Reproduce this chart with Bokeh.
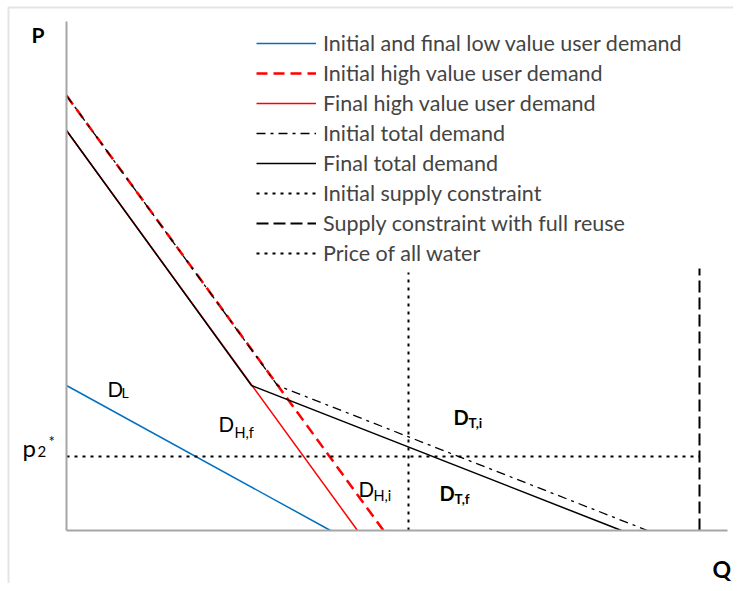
from bokeh.plotting import figure
from bokeh.models import Range1d, Label, Legend, LegendItem, FixedTicker, BoxAnnotation
from bokeh.embed import file_html
from bokeh.resources import INLINE

# ---- data ----
q_max, p_max = 661, 509
low_q = [0, 264]
low_p = [145, 0]
high_init_q = [0, 317]
high_init_p = [435, 0]
high_final_q = [0, 291]
high_final_p = [400, 0]
total_init_q = [0, 211, 581]
total_init_p = [435, 145, 0]
total_final_q = [0, 185, 555]
total_final_p = [400, 145, 0]
supply_init_q = [342, 342]
supply_init_p = [0, 258]
supply_full_q = [633, 633]
supply_full_p = [0, 262]
price_q = [0, 633]
price_p = [74, 74]

legend_labels = [
    "Initial and final low value user demand",
    "Initial high value user demand",
    "Final high value user demand",
    "Initial total demand",
    "Final total demand",
    "Initial supply constraint",
    "Supply constraint with full reuse",
    "Price of all water",
]

FONT = "Lato"
W, H = 733, 583
X0, Y0 = 66, 530  # pixel position of the origin on the canvas

p = figure(width=W, height=H,
           x_range=Range1d(-X0, W - X0), y_range=Range1d(Y0 - H, Y0),
           output_backend="svg", toolbar_location=None,
           min_border_left=0, min_border_right=0,
           min_border_top=0, min_border_bottom=0)
p.xgrid.visible = False
p.ygrid.visible = False
p.outline_line_color = None
for ax, bnds in ((p.xaxis, (0, q_max)), (p.yaxis, (0, p_max))):
    ax.fixed_location = 0
    ax.bounds = bnds
    ax.ticker = FixedTicker(ticks=[])
    ax.major_tick_line_color = None
    ax.minor_tick_line_color = None
    ax.major_label_text_font_size = "0px"
    ax.axis_line_color = "#a6a6a6"
    ax.axis_line_width = 2

# outer chart frame (top and left edges visible)
p.add_layout(BoxAnnotation(left=8 - X0, top=Y0 - 7, right=W - X0 + 20, bottom=Y0 - H - 20,
                           fill_alpha=0, line_color="#a6a6a6", line_width=2))

BLUE = "#0070c0"
RED = "#ff0000"

r_low = p.line(low_q, low_p, line_color=BLUE, line_width=1.5)
r_hf = p.line(high_final_q, high_final_p, line_color=RED, line_width=1.5)
r_hi = p.line(high_init_q, high_init_p, line_color=RED, line_width=2.5, line_dash="11 6")
r_ti = p.line(total_init_q, total_init_p, line_color="black", line_width=1.3, line_dash="9 5 3 5")
r_tf = p.line(total_final_q, total_final_p, line_color="black", line_width=1.5)
r_si = p.line(supply_init_q, supply_init_p, line_color="black", line_width=2, line_dash="3 5")
r_sf = p.line(supply_full_q, supply_full_p, line_color="black", line_width=2, line_dash="12 5")
r_pr = p.line(price_q, price_p, line_color="black", line_width=2, line_dash="3 5")

renderers = [r_low, r_hi, r_hf, r_ti, r_tf, r_si, r_sf, r_pr]
legend = Legend(items=[LegendItem(label=l, renderers=[r]) for l, r in zip(legend_labels, renderers)],
                location=(256, H - 266), padding=0, margin=0, spacing=4,
                glyph_width=60, glyph_height=26, label_height=26, label_standoff=7,
                label_text_font=FONT, label_text_font_size="21.5px",
                border_line_color=None, background_fill_alpha=0)
p.add_layout(legend, "center")

OFF = 8.5  # baseline correction


def lab(text, px, py, size, bold=False):
    p.add_layout(Label(x=px - X0, y=Y0 - py + OFF, text=text, text_font=FONT,
                       text_font_size=f"{size}px",
                       text_font_style="bold" if bold else "normal",
                       text_baseline="alphabetic", text_align="left",
                       text_color="black"))


lab("P", 31, 42, 21, True)
lab("Q", 712, 577, 23, True)
lab("p", 22, 455, 24)
lab("2", 37, 459, 15)
lab("*", 48, 449, 15)
lab("D", 107, 397, 20.5)
lab("L", 121, 400, 14)
lab("D", 218, 432, 20.5)
lab("H,f", 234, 440, 14.5)
lab("D", 358, 497, 20.5)
lab("H,i", 373, 503, 14.5)
lab("D", 453, 425, 20, True)
lab("T,i", 468, 431, 13.5, True)
lab("D", 439, 501, 20, True)
lab("T,f", 454, 507, 13.5, True)

open("out.html", "w").write(file_html(p, INLINE))
